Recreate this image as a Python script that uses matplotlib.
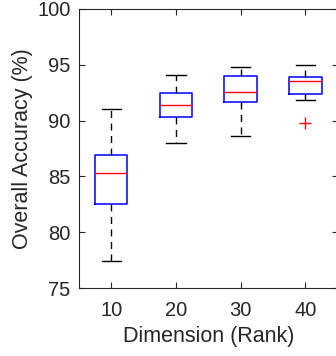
import matplotlib
matplotlib.use("Agg")
import matplotlib.pyplot as plt

# values
ranks = [10, 20, 30, 40]
whislo = [77.4, 88.0, 88.6, 91.8]
q1 = [82.5, 90.3, 91.7, 92.4]
med = [85.3, 91.4, 92.6, 93.5]
q3 = [86.9, 92.5, 94.0, 93.9]
whishi = [91.0, 94.1, 94.8, 95.0]
fliers = [[], [], [], [89.8]]

plt.rcParams['font.family'] = ['Liberation Sans', 'DejaVu Sans']

fig = plt.figure(figsize=(3.36, 3.56), dpi=100)
ax = fig.add_axes([0.235, 0.191, 0.77, 0.784])

stats = []
for i in range(len(ranks)):
    stats.append(dict(whislo=whislo[i], q1=q1[i], med=med[i], q3=q3[i],
                      whishi=whishi[i], fliers=fliers[i]))

ax.bxp(stats, positions=ranks, widths=5, capwidths=3,
       boxprops=dict(color='blue', linewidth=1.1),
       medianprops=dict(color='red', linewidth=1.0),
       whiskerprops=dict(color='black', linestyle=(0, (5, 4)), linewidth=1.0),
       capprops=dict(color='black', linewidth=1.0),
       flierprops=dict(marker='+', markeredgecolor='red', markersize=8,
                       markeredgewidth=1.0, linestyle='none'))

ax.set_xlim(5, 45)
ax.set_ylim(75, 100)
ax.set_xticks(ranks)
ax.set_xticklabels([str(r) for r in ranks])
ax.set_yticks([75, 80, 85, 90, 95, 100])
ax.tick_params(direction='in', top=True, right=True, labelsize=14.5,
               color='#262626', labelcolor='#262626', length=4, pad=6)
ax.tick_params(axis='x', pad=9)
for s in ax.spines.values():
    s.set_color('#262626')
    s.set_linewidth(0.8)

ax.set_xlabel('Dimension (Rank)', fontsize=15.5, color='#262626', labelpad=5)
ax.set_ylabel('Overall Accuracy (%)', fontsize=15.5, color='#262626', labelpad=3)

fig.savefig('out.png', dpi=100)
